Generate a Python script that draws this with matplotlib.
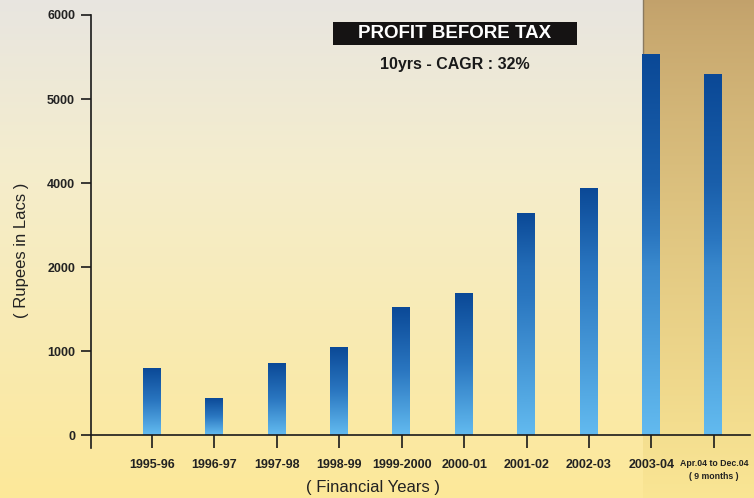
import numpy as np
import matplotlib
matplotlib.use("Agg")
import matplotlib.pyplot as plt
from matplotlib.patches import Rectangle
from matplotlib.colors import LinearSegmentedColormap

# ---- data ----
years = ["1995-96", "1996-97", "1997-98", "1998-99", "1999-2000", "2000-01",
         "2001-02", "2002-03", "2003-04", "Apr.04 to Dec.04\n( 9 months )"]
profit = [800, 443, 860, 1050, 1533, 1693, 3290, 3886, 5542, 5304]
ytick_vals = [0, 1000, 2000, 4000, 5000, 6000]
ytick_labels = ["0", "1000", "2000", "4000", "5000", "6000"]

W, H = 754, 498
fig = plt.figure(figsize=(W / 100, H / 100), dpi=100)

# ---- background ----
bg = fig.add_axes([0, 0, 1, 1], zorder=0)
bg.set_axis_off()
yy = np.linspace(0, 1, H)[:, None]
xx = np.linspace(0, 1, W)[None, :]
top_l = np.array([0.91, 0.90, 0.88])
mid_l = np.array([0.96, 0.93, 0.80])
bot_l = np.array([0.99, 0.91, 0.60])
t = yy[..., None]
left = np.where(t < 0.35, top_l + (mid_l - top_l) * (t / 0.35),
                mid_l + (bot_l - mid_l) * ((t - 0.35) / 0.65))
top_r = np.array([0.76, 0.63, 0.42])
bot_r = np.array([0.98, 0.90, 0.58])
right = top_r + (bot_r - top_r) * (t ** 0.8)
mask = (xx >= 643 / W)[..., None]
img = np.where(mask, right, left)
img = np.broadcast_to(img, (H, W, 3)).copy()
bg.imshow(img, extent=[0, 1, 0, 1], aspect="auto", origin="upper")
bg.plot([643 / W, 643 / W], [1, 1 - 60 / H], color="#8a7a60", lw=1)
bg.set_xlim(0, 1)
bg.set_ylim(0, 1)

# ---- main axes ----
ax = fig.add_axes([91 / W, 1 - 448 / H, (750 - 91) / W, (448 - 15) / H], zorder=2)
ax.patch.set_alpha(0)

pos_vals = np.arange(len(ytick_vals))


def fwd(v):
    v = np.asarray(v, dtype=float)
    return np.where(v < 0, v / 1000.0, np.interp(v, ytick_vals, pos_vals))


def inv(p):
    p = np.asarray(p, dtype=float)
    return np.where(p < 0, p * 1000.0, np.interp(p, pos_vals, ytick_vals))


ax.set_yscale("function", functions=(fwd, inv))
x = np.arange(len(years))
bw = 0.30
bars = ax.bar(x, profit, width=bw, color="none", edgecolor="none", zorder=3)
grad = np.linspace(0, 1, 256)[:, None]
cmap = LinearSegmentedColormap.from_list("b", ["#0a4896", "#2a76c0", "#62baef"])
for b in bars:
    x0 = b.get_x()
    h = b.get_height()
    im = ax.imshow(grad, extent=[x0, x0 + bw, 0, h], aspect="auto",
                   cmap=cmap, origin="upper", zorder=3, interpolation="bilinear")
    im.set_clip_path(b)

ax.set_xlim(-0.978, 9.58)
ax.set_ylim(-149, 6000)
ax.set_yticks(ytick_vals)
ax.set_yticklabels(ytick_labels)
ax.set_xticks(x)
ax.set_xticklabels(years)

for s in ["top", "right"]:
    ax.spines[s].set_visible(False)
ax.spines["bottom"].set_position(("data", 0))
for s in ["left", "bottom"]:
    ax.spines[s].set_linewidth(1.2)
    ax.spines[s].set_color("#1a1a1a")
    ax.spines[s].set_zorder(4)

fam = ["Liberation Sans Narrow", "Liberation Sans"]
ax.tick_params(axis="y", direction="out", length=7.5, width=1.2, color="#1a1a1a",
               pad=4, labelsize=9, labelcolor="#222222")
ax.tick_params(axis="x", direction="out", length=9, width=1.2, color="#1a1a1a",
               pad=8, labelsize=9, labelcolor="#222222")
for lab in ax.get_yticklabels() + ax.get_xticklabels():
    lab.set_family(fam)
    lab.set_weight("bold")
last = ax.get_xticklabels()[-1]
last.set_fontsize(6.3)
last.set_linespacing(1.5)

# ---- texts ----
fig.text(373 / W, 1 - 487 / H, "( Financial Years )", ha="center", va="center",
         fontsize=12, color="#222222", family=["Liberation Sans"])
fig.text(22 / W, 1 - 250 / H, "( Rupees in Lacs )", ha="center", va="center",
         rotation=90, fontsize=12, color="#222222", family=["Liberation Sans"])

fig.patches.append(Rectangle((333 / W, 1 - 45 / H), (577 - 333) / W, 23 / H,
                             transform=fig.transFigure, facecolor="#151313",
                             edgecolor="none", zorder=5))
fig.text(455 / W, 1 - 34 / H, "PROFIT BEFORE TAX", ha="center", va="center",
         fontsize=13.5, color="white", weight="bold", family=["Liberation Sans"], zorder=6)
fig.text(455 / W, 1 - 64 / H, "10yrs - CAGR : 32%", ha="center", va="center",
         fontsize=11.5, color="#1a1a1a", weight="bold", family=["Liberation Sans"], zorder=6)

fig.savefig("out.png", dpi=100)
